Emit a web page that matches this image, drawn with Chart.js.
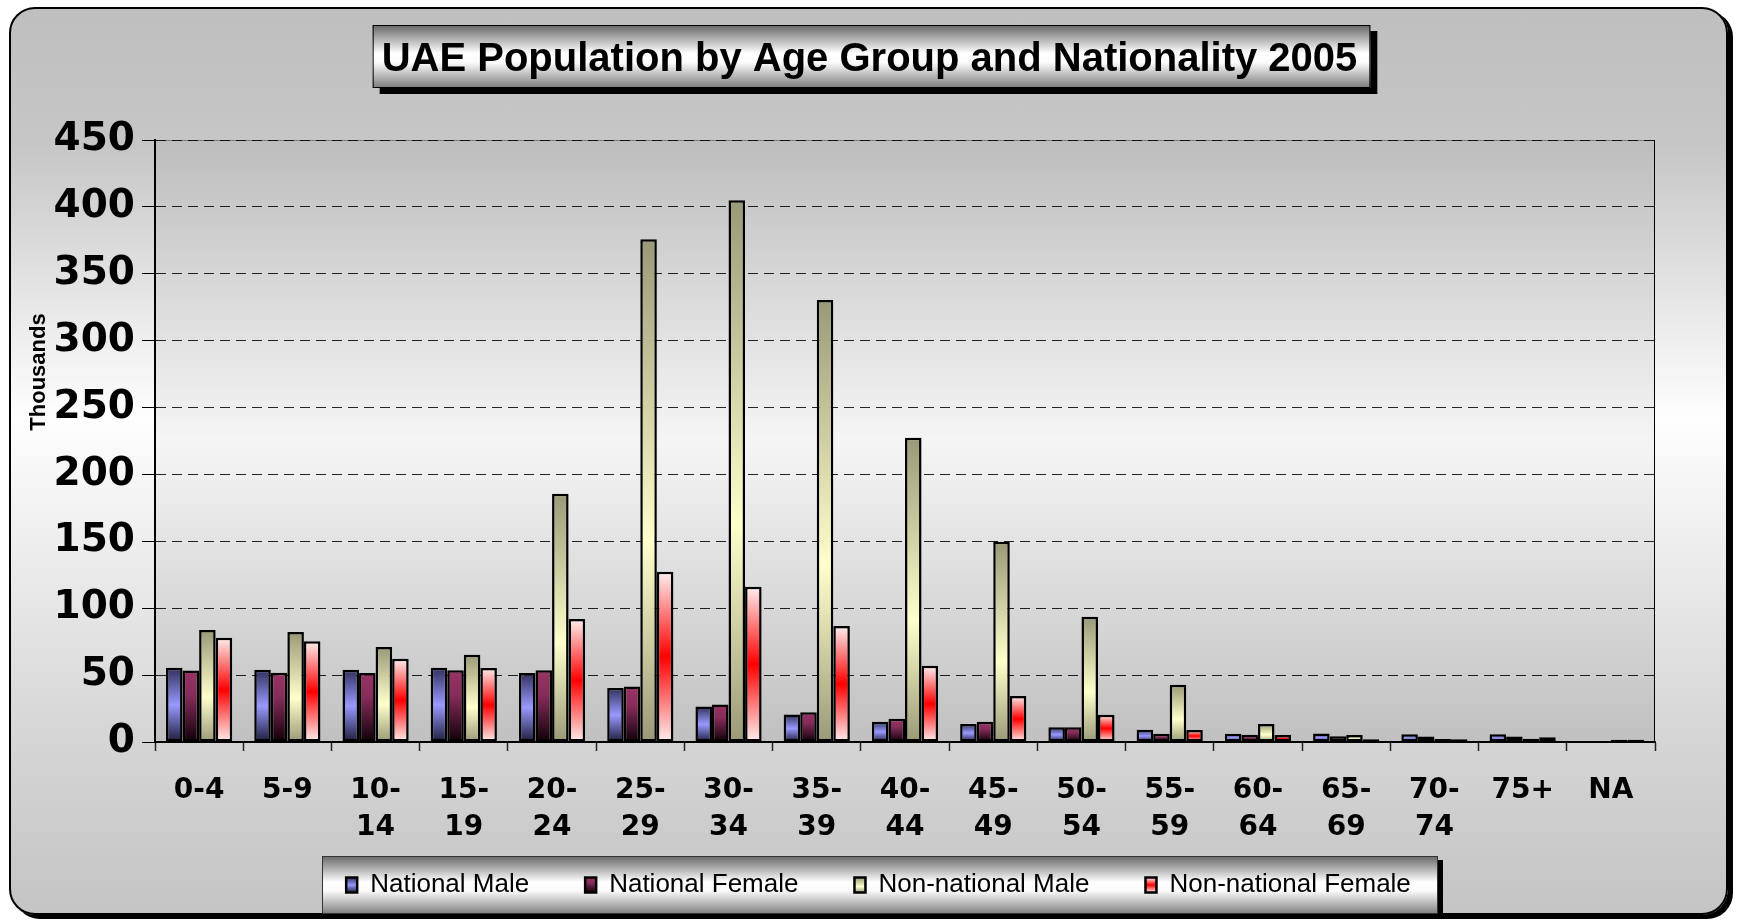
<!DOCTYPE html>
<html>
<head>
<meta charset="utf-8">
<script src="https://cdn.jsdelivr.net/npm/chart.js@4/dist/chart.umd.min.js"></script>
<style>
  html, body { margin: 0; padding: 0; background: #ffffff; width: 1739px; height: 921px; overflow: hidden; }
  #panel {
    position: absolute; left: 9px; top: 7px; width: 1719px; height: 908px;
    box-sizing: border-box; border: 2px solid #000; border-radius: 26px;
    box-shadow: 5px 4px 0 #000;
    background: linear-gradient(to bottom, #bfbfbf 0%, #c6c6c6 15%, #fefefe 45%, #d6d6d6 80%, #c4c4c4 100%);
  }
  #c { position: absolute; left: 0; top: 0; }
</style>
</head>
<body>
<div id="panel"></div>
<canvas id="c" width="1739" height="921"></canvas>
<script>
// ---------------- DATA ----------------
const categories = ['0-4','5-9','10-14','15-19','20-24','25-29','30-34','35-39','40-44','45-49','50-54','55-59','60-64','65-69','70-74','75+','NA'];
const tickLabels = [['0-4'],['5-9'],['10-','14'],['15-','19'],['20-','24'],['25-','29'],['30-','34'],['35-','39'],['40-','44'],['45-','49'],['50-','54'],['55-','59'],['60-','64'],['65-','69'],['70-','74'],['75+'],['NA']];
const seriesNames = ['National Male','National Female','Non-national Male','Non-national Female'];
const nationalMale      = [55.5, 54, 54, 55.5, 51.6, 40.4, 26.5, 20.5, 15.2, 13.5, 11, 9.2, 6.2, 6.3, 5.8, 5.8, 0];
const nationalFemale    = [53.5, 51.8, 51.6, 53.6, 53.6, 41.4, 28, 22.2, 17.4, 15.2, 11.1, 6.2, 5.4, 4.3, 4.2, 4.1, 0];
const nonNationalMale   = [83.7, 82.2, 71, 65.3, 185.6, 375.8, 405, 330.4, 227.5, 149.7, 93.7, 42.8, 13.5, 5.2, 2.2, 2.4, 1.6];
const nonNationalFemale = [78, 75.3, 62.3, 55.3, 92, 127.3, 116.1, 86.7, 57, 34.4, 20.4, 9, 5.2, 2, 2, 3.6, 1.6];
const yTicks = [0, 50, 100, 150, 200, 250, 300, 350, 400, 450];
const titleText = 'UAE Population by Age Group and Nationality 2005';
const yAxisLabel = 'Thousands';

// ---------------- STYLE ----------------
const FONT = "'Liberation Sans', Arial, Helvetica, sans-serif";
const WIDE = "'DejaVu Sans', 'Liberation Sans', Arial, sans-serif";
const LEG_FONT = 26, LEG_BOX_W = 11, LEG_BOX_H = 15, LEG_PAD = 56;

const stopSets = [
  [[0,'#30305c'],[0.5,'#9999ff'],[1,'#1c1c3a']],
  [[0,'#993366'],[0.35,'#862c5a'],[1,'#0e0006']],
  [[0,'#999977'],[0.6,'#ffffcc'],[1,'#999977']],
  [[0,'#fff0f0'],[0.5,'#ff0000'],[1,'#fff0f0']]
];
const solids = ['#8080e0', '#6b1f45', '#f0f0c0', '#ff8080'];

function barFill(i) {
  return (ctx) => {
    const chart = ctx.chart;
    if (ctx.type !== 'data' || !chart.chartArea || !chart.scales.y) return solids[i];
    const ys = chart.scales.y;
    const top = ys.getPixelForValue(ctx.raw);
    const bottom = ys.getPixelForValue(0);
    if (!isFinite(top) || !isFinite(bottom) || bottom - top < 0.5) return solids[i];
    const g = chart.ctx.createLinearGradient(0, top, 0, bottom);
    stopSets[i].forEach(s => g.addColorStop(s[0], s[1]));
    return g;
  };
}

const seriesData = [nationalMale, nationalFemale, nonNationalMale, nonNationalFemale];

const datasets = seriesNames.map((name, i) => ({
  label: name,
  data: seriesData[i],
  backgroundColor: barFill(i),
  borderColor: '#000000',
  borderWidth: 2.5,
  borderSkipped: false,
  categoryPercentage: 0.75,
  barPercentage: 1.0
}));

// Decorations: plot background, title box, legend box, axis label
const decor = {
  id: 'decor',
  afterLayout(chart) {
    chart.legend.left += 46;
    chart.legend.right += 46;
    chart.titleBlock.left += 37;
    chart.titleBlock.right += 37;
    // let the two-line category labels extend below the axis box (avoid clipping)
    chart.scales.x.bottom = chart.scales.x.top + 115;
  },
  beforeDraw(chart) {
    const c = chart.ctx;
    const a = chart.chartArea;
    c.save();
    // plot area gradient
    const g = c.createLinearGradient(0, a.top, 0, a.bottom);
    g.addColorStop(0, '#bdbdbd');
    g.addColorStop(0.5, '#f5f5f5');
    g.addColorStop(1, '#c0c0c0');
    c.fillStyle = g;
    c.fillRect(a.left, a.top, a.right - a.left, a.bottom - a.top);
    // frame (top/right)
    c.strokeStyle = '#7a7a7a';
    c.lineWidth = 1;
    c.beginPath();
    c.moveTo(a.left, a.top + 0.5); c.lineTo(a.right, a.top + 0.5);
    c.stroke();
    c.strokeStyle = '#000';
    c.beginPath();
    c.moveTo(a.right - 0.5, a.top); c.lineTo(a.right - 0.5, a.bottom);
    c.stroke();

    // title box
    const cx = (chart.titleBlock.left + chart.titleBlock.right) / 2;
    c.font = 'bold 40px ' + FONT;
    const tw = c.measureText(titleText).width;
    const bw = tw + 22, bh = 63, bx = cx - bw / 2 + 2, by = 25;
    c.fillStyle = '#000';
    c.fillRect(bx + 7, by + 6, bw, bh);
    const tg = c.createLinearGradient(0, by, 0, by + bh);
    tg.addColorStop(0, '#666666');
    tg.addColorStop(0.45, '#ffffff');
    tg.addColorStop(0.6, '#fafafa');
    tg.addColorStop(1, '#7a7a7a');
    c.fillStyle = tg;
    c.fillRect(bx, by, bw, bh);
    c.strokeStyle = '#000';
    c.lineWidth = 1;
    c.strokeRect(bx + 0.5, by + 0.5, bw - 1, bh - 1);

    // legend box
    const lx = 322, ly = 856, lw = 1116, lh = 58;
    c.fillStyle = '#000';
    c.fillRect(lx + 5, ly + 4, lw, lh);
    const lg = c.createLinearGradient(0, ly, 0, ly + lh);
    lg.addColorStop(0, '#666666');
    lg.addColorStop(0.45, '#ffffff');
    lg.addColorStop(0.6, '#fafafa');
    lg.addColorStop(1, '#808080');
    c.fillStyle = lg;
    c.fillRect(lx, ly, lw, lh);
    c.strokeStyle = '#333';
    c.strokeRect(lx + 0.5, ly + 0.5, lw - 1, lh - 1);
    c.restore();

    // legend swatch gradients
    const lgd = chart.legend;
    if (lgd && lgd.legendItems) {
      const itemH = Math.max(LEG_FONT, LEG_BOX_H);
      const sTop = lgd.top + LEG_PAD + (itemH - LEG_BOX_H) / 2;
      lgd.legendItems.forEach((it) => {
        const sg = c.createLinearGradient(0, sTop, 0, sTop + LEG_BOX_H);
        stopSets[it.datasetIndex].forEach(s => sg.addColorStop(s[0], s[1]));
        it.fillStyle = sg;
      });
    }
  },
  afterDraw(chart) {
    const c = chart.ctx;
    c.save();
    c.translate(39, 372);
    c.rotate(-Math.PI / 2);
    c.font = 'bold 22px ' + FONT;
    c.fillStyle = '#000';
    c.textAlign = 'center';
    c.textBaseline = 'middle';
    c.fillText(yAxisLabel, 0, 0);
    c.restore();
  }
};

const chart = new Chart(document.getElementById('c'), {
  type: 'bar',
  data: { labels: categories, datasets },
  plugins: [decor],
  options: {
    responsive: false,
    animation: false,
    devicePixelRatio: 1,
    layout: { padding: { left: 10, right: 84, top: 0, bottom: 13 } },
    plugins: {
      title: {
        display: true,
        text: titleText,
        color: '#000',
        font: { family: FONT, size: 40, weight: 'bold', lineHeight: 1.2 },
        padding: { top: 35.5, bottom: 56.5 }
      },
      legend: {
        display: true,
        position: 'bottom',
        labels: {
          color: '#000',
          font: { family: FONT, size: LEG_FONT, weight: 'normal' },
          boxWidth: LEG_BOX_W,
          boxHeight: LEG_BOX_H,
          padding: LEG_PAD
        }
      },
      tooltip: { enabled: false }
    },
    scales: {
      x: {
        grid: { display: true, drawOnChartArea: false, drawTicks: true, tickLength: 9, tickColor: '#222', tickWidth: 1.5, offset: true },
        border: { display: true, color: '#000', width: 2 },
        ticks: {
          color: '#000',
          font: { family: WIDE, size: 28, weight: 'bold', lineHeight: 1.3 },
          padding: 22,
          maxRotation: 0,
          autoSkip: false,
          callback: (v, i) => tickLabels[i]
        },
        afterFit: (s) => { s.height = 74; }
      },
      y: {
        min: 0,
        max: yTicks[yTicks.length - 1],
        afterBuildTicks: (s) => { s.ticks = yTicks.map(v => ({ value: v })); },
        grid: { color: 'rgba(0,0,0,0.85)', lineWidth: 1, drawTicks: true, tickLength: 13, tickColor: '#000', tickWidth: 1 },
        border: { display: true, color: '#000', width: 2, dash: [10, 6] },
        ticks: {
          color: '#000',
          font: { family: WIDE, size: 39, weight: 'bold' },
          padding: 7
        },
        afterFit: (s) => { s.width = 145; }
      }
    }
  }
});
</script>
</body>
</html>
